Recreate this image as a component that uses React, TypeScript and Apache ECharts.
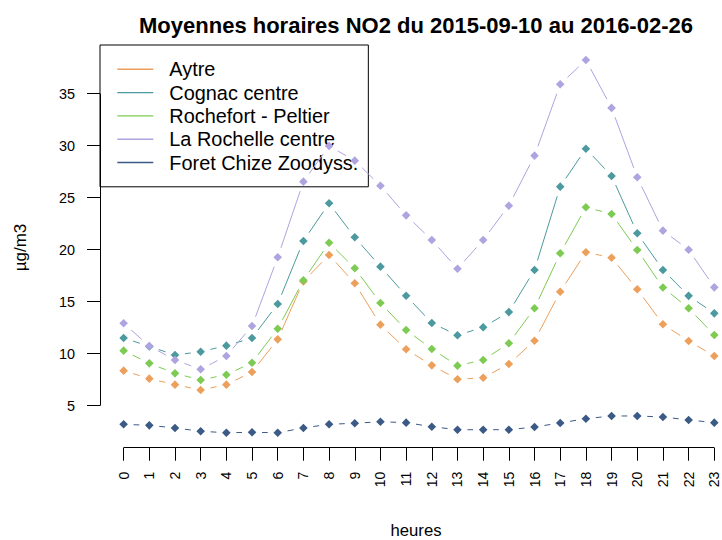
import React, { useEffect, useRef } from "react";
import * as echarts from "echarts";

// ---- data ----
const hours = [0, 1, 2, 3, 4, 5, 6, 7, 8, 9, 10, 11, 12, 13, 14, 15, 16, 17, 18, 19, 20, 21, 22, 23];
const hourLabels = ["0", "1", "2", "3", "4", "5", "6", "7", "8", "9", "10", "11", "12", "13", "14", "15", "16", "17", "18", "19", "20", "21", "22", "23"];
const yTicks = [5, 10, 15, 20, 25, 30, 35];

const stationNames = ["Aytre", "Cognac centre", "Rochefort - Peltier", "La Rochelle centre", "Foret Chize Zoodyss."];

const aytre = [8.37, 7.6, 7.02, 6.51, 7.02, 8.24, 11.38, 16.95, 19.49, 16.77, 12.79, 10.42, 8.88, 7.54, 7.69, 9.01, 11.25, 15.95, 19.75, 19.23, 16.19, 12.83, 11.22, 9.78];
const cognac = [11.51, 10.7, 9.87, 10.19, 10.77, 11.51, 14.78, 20.84, 24.46, 21.19, 18.37, 15.57, 12.95, 11.77, 12.54, 14.0, 18.05, 26.06, 29.71, 27.09, 21.58, 18.05, 15.56, 13.88];
const rochefort = [10.29, 9.07, 8.11, 7.47, 7.98, 9.13, 12.4, 17.05, 20.67, 18.21, 14.88, 12.28, 10.45, 8.85, 9.39, 11.0, 14.37, 19.65, 24.08, 23.43, 19.97, 16.36, 14.37, 11.8];
const laRochelle = [12.92, 10.74, 9.39, 8.5, 9.78, 12.66, 19.27, 26.54, 29.97, 28.56, 26.15, 23.3, 20.93, 18.17, 20.93, 24.23, 29.04, 35.9, 38.24, 33.63, 26.96, 21.83, 20.0, 16.38];
const foret = [3.21, 3.11, 2.86, 2.54, 2.4, 2.44, 2.4, 2.86, 3.21, 3.31, 3.46, 3.37, 2.98, 2.69, 2.69, 2.69, 2.95, 3.34, 3.75, 4.01, 4.01, 3.91, 3.63, 3.37];

const stationValues = [aytre, cognac, rochefort, laRochelle, foret];
const colors = ["#ECA05C", "#4C9A9F", "#7DCB53", "#AFA3E0", "#3C5A86"];

// ---- layout / style constants ----
const FONT = '"Liberation Sans", Arial, Helvetica, sans-serif';
const X_MIN = -0.92;
const X_MAX = 23.3;
const Y_MIN = 0.96;
const Y_MAX = 39.68;
const GAP = 10; // gap around points (R type = "b")
const HALF = 4.3; // diamond half size

function buildOption() {
  const series: any[] = stationValues.map((vals, k) => ({
    type: "custom",
    name: stationNames[k],
    coordinateSystem: "cartesian2d",
    itemStyle: { color: colors[k] },
    encode: { x: 0, y: 1 },
    clip: false,
    z: 2 + k,
    silent: true,
    data: hours.map((h, i) => [h, vals[i]]),
    renderItem: (params: any, api: any) => {
      const i = params.dataIndex;
      const p = api.coord([hours[i], vals[i]]);
      const children: any[] = [];
      if (i < hours.length - 1) {
        const q = api.coord([hours[i + 1], vals[i + 1]]);
        const dx = q[0] - p[0];
        const dy = q[1] - p[1];
        const len = Math.sqrt(dx * dx + dy * dy);
        if (len > 2 * GAP) {
          const ux = dx / len;
          const uy = dy / len;
          children.push({
            type: "line",
            shape: {
              x1: p[0] + ux * GAP,
              y1: p[1] + uy * GAP,
              x2: q[0] - ux * GAP,
              y2: q[1] - uy * GAP,
            },
            style: { stroke: colors[k], lineWidth: 1, fill: null },
          });
        }
      }
      children.push({
        type: "polygon",
        shape: {
          points: [
            [p[0], p[1] - HALF],
            [p[0] + HALF, p[1]],
            [p[0], p[1] + HALF],
            [p[0] - HALF, p[1]],
          ],
        },
        style: { fill: colors[k], stroke: null },
      });
      return { type: "group", children };
    },
  }));

  // axis lines spanning only the tick range (R style)
  series.push({
    type: "line",
    name: "axes",
    data: [],
    silent: true,
    clip: false,
    z: 1,
    markLine: {
      silent: true,
      symbol: ["none", "none"],
      label: { show: false },
      emphasis: { disabled: true },
      lineStyle: { color: "#000", width: 1, type: "solid" },
      data: [
        [{ coord: [hours[0], Y_MIN] }, { coord: [hours[hours.length - 1], Y_MIN] }],
        [{ coord: [X_MIN, yTicks[0]] }, { coord: [X_MIN, yTicks[yTicks.length - 1]] }],
      ],
    },
  });

  return {
    animation: false,
    backgroundColor: "#fff",
    grid: { left: 100, right: 0, top: 45, bottom: 92.3, containLabel: false },
    xAxis: {
      type: "value",
      min: X_MIN,
      max: X_MAX,
      axisLine: { show: false, onZero: false },
      splitLine: { show: false },
      axisTick: {
        show: true,
        length: 13,
        inside: false,
        customValues: hours,
        lineStyle: { color: "#000", width: 1 },
      },
      axisLabel: {
        customValues: hours,
        formatter: (v: number) => hourLabels[hours.indexOf(Math.round(v))] ?? "",
        rotate: 90,
        margin: 24,
        fontSize: 14,
        fontFamily: FONT,
        color: "#000",
      },
    },
    yAxis: {
      type: "value",
      min: Y_MIN,
      max: Y_MAX,
      axisLine: { show: false, onZero: false },
      splitLine: { show: false },
      axisTick: {
        show: true,
        length: 13,
        inside: false,
        customValues: yTicks,
        lineStyle: { color: "#000", width: 1 },
      },
      axisLabel: {
        customValues: yTicks,
        margin: 25,
        fontSize: 14.4,
        fontFamily: FONT,
        color: "#000",
      },
    },
    legend: {
      show: true,
      orient: "vertical",
      left: 100,
      top: 45,
      selectedMode: false,
      backgroundColor: "transparent",
      borderColor: "#000",
      borderWidth: 1,
      padding: [12.65, 10, 12.65, 17.3],
      itemWidth: 36,
      itemHeight: 1.4,
      itemGap: 0,
      icon: "rect",
      data: stationNames.map((n) => ({ name: n, icon: "rect" })),
      textStyle: {
        fontSize: 19.9,
        lineHeight: 23.3,
        fontFamily: FONT,
        color: "#000",
        padding: [0, 0, 0, 11],
      },
    },
    graphic: [
      {
        type: "text",
        x: 416,
        y: 25,
        style: {
          text: "Moyennes horaires NO2 du 2015-09-10 au 2016-02-26",
          font: `bold 22px ${FONT}`,
          fill: "#000",
          align: "center",
          verticalAlign: "middle",
        },
      },
      {
        type: "text",
        x: 416,
        y: 530.5,
        style: {
          text: "heures",
          font: `16.7px ${FONT}`,
          fill: "#000",
          align: "center",
          verticalAlign: "middle",
        },
      },
      {
        type: "text",
        x: 20.5,
        y: 247.5,
        rotation: Math.PI / 2,
        style: {
          text: "µg/m3",
          font: `17px ${FONT}`,
          fill: "#000",
          align: "center",
          verticalAlign: "middle",
        },
      },
    ],
    series,
  };
}

export default function App() {
  const ref = useRef<HTMLDivElement>(null);
  useEffect(() => {
    if (!ref.current) return;
    document.body.style.margin = "0";
    const chart = echarts.init(ref.current, null, { renderer: "svg" });
    chart.setOption(buildOption() as any);
    return () => {
      chart.dispose();
    };
  }, []);
  return (
    <div
      ref={ref}
      style={{ position: "absolute", left: 0, top: 0, width: 722, height: 540, background: "#fff" }}
    />
  );
}
